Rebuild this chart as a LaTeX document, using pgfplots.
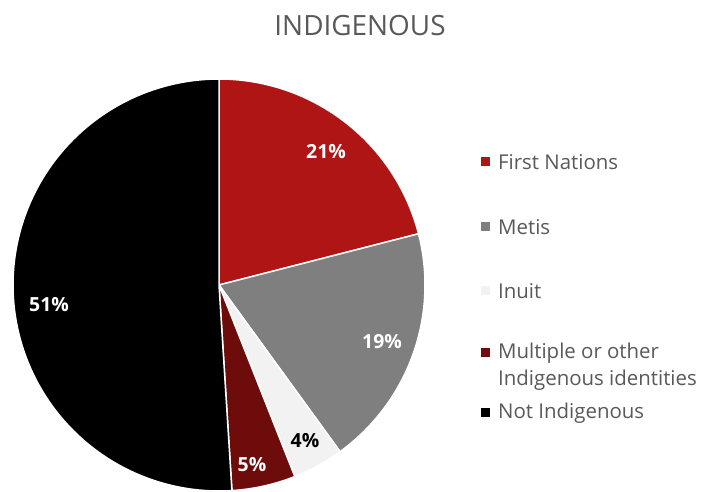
\documentclass[border=0pt]{standalone}
\usepackage{pgfplots}
\pgfplotsset{compat=1.18}
\usepackage{fontspec}
\setmainfont{Open Sans}
\definecolor{cFN}{HTML}{B01515}
\definecolor{cME}{HTML}{7F7F7F}
\definecolor{cIN}{HTML}{F2F2F2}
\definecolor{cMU}{HTML}{6E0C0C}
\definecolor{cNI}{HTML}{000000}
\definecolor{txt}{HTML}{595959}
% pie values (percent)
\def\vFN{21}\def\vME{19}\def\vIN{4}\def\vMU{5}\def\vNI{51}
\pgfmathsetmacro\aA{90}
\pgfmathsetmacro\aB{\aA-3.6*\vFN}
\pgfmathsetmacro\aC{\aB-3.6*\vME}
\pgfmathsetmacro\aD{\aC-3.6*\vIN}
\pgfmathsetmacro\aE{\aD-3.6*\vMU}
\pgfmathsetmacro\aF{\aE-3.6*\vNI}
\def\cx{219}\def\cy{206}\def\rr{206}
\begin{document}
\begin{tikzpicture}
\begin{axis}[
  width=712bp, height=491bp, scale only axis,
  xmin=0, xmax=712, ymin=0, ymax=491,
  hide axis, clip=false,
]
\addplot[fill=cFN, draw=white, line width=1.5pt, domain=\aB:\aA, samples=80, variable=\t]
  ({\cx+\rr*cos(t)},{\cy+\rr*sin(t)}) -- (axis cs:\cx,\cy) -- cycle;
\addplot[fill=cME, draw=white, line width=1.5pt, domain=\aC:\aB, samples=80, variable=\t]
  ({\cx+\rr*cos(t)},{\cy+\rr*sin(t)}) -- (axis cs:\cx,\cy) -- cycle;
\addplot[fill=cIN, draw=white, line width=1.5pt, domain=\aD:\aC, samples=30, variable=\t]
  ({\cx+\rr*cos(t)},{\cy+\rr*sin(t)}) -- (axis cs:\cx,\cy) -- cycle;
\addplot[fill=cMU, draw=white, line width=1.5pt, domain=\aE:\aD, samples=30, variable=\t]
  ({\cx+\rr*cos(t)},{\cy+\rr*sin(t)}) -- (axis cs:\cx,\cy) -- cycle;
\addplot[fill=cNI, draw=white, line width=1.5pt, domain=\aF:\aE, samples=160, variable=\t]
  ({\cx+\rr*cos(t)},{\cy+\rr*sin(t)}) -- (axis cs:\cx,\cy) -- cycle;
% data labels
\node[font=\fontsize{19.5}{22}\selectfont\bfseries, white] at (axis cs:326,339) {21\%};
\node[font=\fontsize{19.5}{22}\selectfont\bfseries, white] at (axis cs:382,149) {19\%};
\node[font=\fontsize{19.5}{22}\selectfont\bfseries, black] at (axis cs:305,50) {4\%};
\node[font=\fontsize{19.5}{22}\selectfont\bfseries, white] at (axis cs:252,26) {5\%};
\node[font=\fontsize{19.5}{22}\selectfont\bfseries, white] at (axis cs:49,186) {51\%};
% title
\node[font=\fontsize{28}{34}\selectfont, txt] at (axis cs:360,465) {INDIGENOUS};
% legend
\fill[cFN] (axis cs:481,325) rectangle (axis cs:490,334);
\node[anchor=west, font=\fontsize{20.5}{24}\selectfont, txt, inner sep=0pt] at (axis cs:498,329) {First Nations};
\fill[cME] (axis cs:481,260) rectangle (axis cs:490,269);
\node[anchor=west, font=\fontsize{20.5}{24}\selectfont, txt, inner sep=0pt] at (axis cs:498,264) {Metis};
\fill[cIN] (axis cs:481,196) rectangle (axis cs:490,205);
\node[anchor=west, font=\fontsize{20.5}{24}\selectfont, txt, inner sep=0pt] at (axis cs:498,200) {Inuit};
\fill[cMU] (axis cs:481,134) rectangle (axis cs:490,143);
\node[anchor=west, font=\fontsize{20.5}{24}\selectfont, txt, inner sep=0pt] at (axis cs:498,138) {Multiple or other};
\node[anchor=west, font=\fontsize{20.5}{24}\selectfont, txt, inner sep=0pt] at (axis cs:498,111) {Indigenous identities};
\fill[cNI] (axis cs:481,74) rectangle (axis cs:490,83);
\node[anchor=west, font=\fontsize{20.5}{24}\selectfont, txt, inner sep=0pt] at (axis cs:498,78) {Not Indigenous};
\end{axis}
\path (current axis.south west) rectangle (current axis.north east);
\end{tikzpicture}
\end{document}
